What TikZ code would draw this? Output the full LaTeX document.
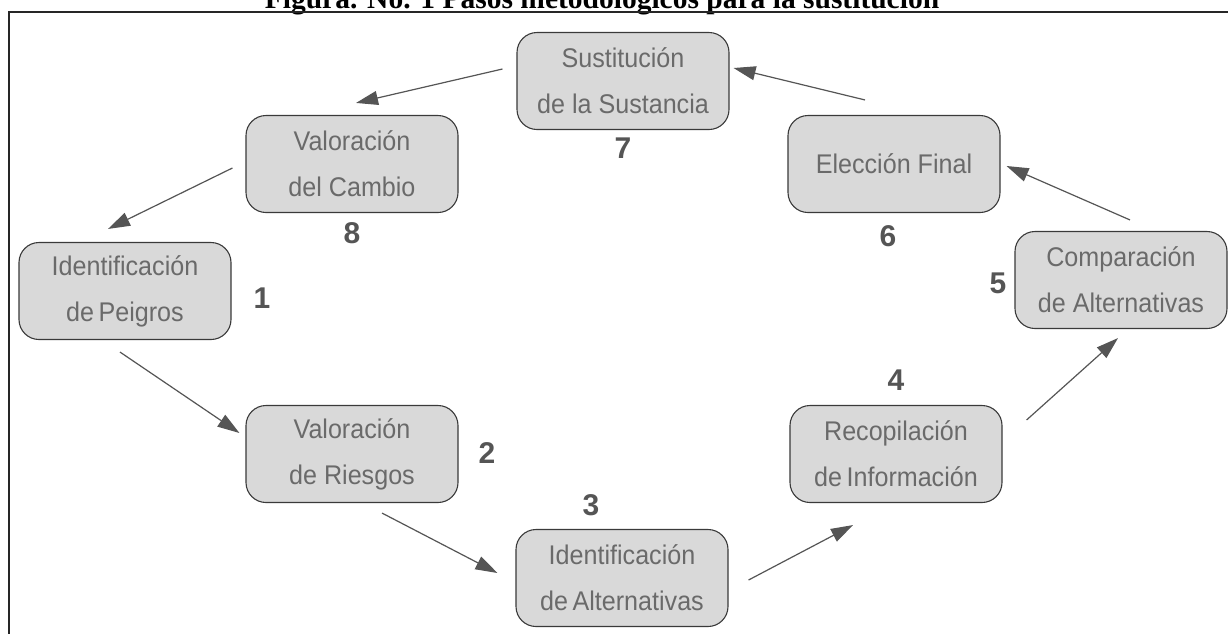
\documentclass[tikz,border=0pt]{standalone}
\usepackage{fontspec}
\setmainfont{Liberation Serif}
\newfontfamily\boxfont[FakeStretch=0.93]{Liberation Sans}
\newfontfamily\numfont{Liberation Sans}
\usetikzlibrary{calc,arrows.meta}
\definecolor{boxfill}{HTML}{D9D9D9}
\definecolor{boxdraw}{HTML}{3A3A3A}
\definecolor{boxtext}{HTML}{6A6A6A}
\definecolor{numcol}{HTML}{555555}
\definecolor{arrcol}{HTML}{555555}
\tikzset{
  stepbox/.style={draw=boxdraw, fill=boxfill, line width=1.1pt, rounded corners=20pt,
    minimum width=212pt, minimum height=97pt, inner sep=0pt, align=center,
    text=boxtext, font={\boxfont\fontsize{27}{46}\selectfont}},
  numlbl/.style={text=numcol, font={\numfont\bfseries\fontsize{30}{30}\selectfont}, inner sep=0pt},
  arr/.style={draw=arrcol, line width=1.2pt, -{Triangle[length=22pt,width=14pt]}},
}
\begin{document}
\begin{tikzpicture}[x=1pt,y=-1pt]
\useasboundingbox (0,0) rectangle (1228,633);
\clip (0,0) rectangle (1228,633);
\fill[white] (0,0) rectangle (1228,633);
% title
\node[anchor=base, font={\bfseries\fontsize{29.5}{30}\selectfont}, inner sep=0pt] (title) at (602,8) {Figura. No. 1 Pasos metodológicos para la sustitución};
% frame
\draw[line width=2pt, draw=black!85] (9,12) rectangle (1250,660);
% boxes
\node[stepbox] (n7) at (623,81) {Sustitución\\de la Sustancia};
\node[stepbox] (n8) at (352,164) {Valoración\\del Cambio};
\node[stepbox] (n1) at (125,291) {Identificación\\de\,Peigros};
\node[stepbox] (n2) at (352,454) {Valoración\\de Riesgos};
\node[stepbox] (n3) at (622,578) {Identificación\\de\,Alternativas};
\node[stepbox] (n4) at (896,454) {Recopilación\\de\,Información};
\node[stepbox] (n5) at (1121,280) {Comparación\\de Alternativas};
\node[stepbox] (n6) at (894,164) {Elección Final};
% numbers
\node[numlbl] (l7) at (623,148) {7};
\node[numlbl] (l8) at (352,233) {8};
\node[numlbl] (l1) at (262,298) {1};
\node[numlbl] (l2) at (487,453) {2};
\node[numlbl] (l3) at (591,505) {3};
\node[numlbl] (l4) at (896,380) {4};
\node[numlbl] (l5) at (998,283) {5};
\node[numlbl] (l6) at (888,236) {6};
% arrows
\draw[arr] ($(n7.west)+(-14,-12)$) -- ($(n8.north)+(4,-12)$);
\draw[arr] ($(n8.west)+(-13,4)$) -- ($(n1.north)+(-17,-13)$);
\draw[arr] ($(n1.south)+(-5,12)$) -- ($(n2.west)+(-6,-21)$);
\draw[arr] ($(n2.south)+(30,10)$) -- ($(n3.west)+(-18,-5)$);
\draw[arr] ($(n3.east)+(20,2)$) -- ($(n4.south)+(-43,22)$);
\draw[arr] ($(n4.east)+(24,-34)$) -- ($(n5.south)+(-3,9)$);
\draw[arr] ($(n5.north)+(9,-11)$) -- ($(n6.east)+(6,2)$);
\draw[arr] ($(n6.north)+(-29,-15)$) -- ($(n7.east)+(4,-13)$);
\end{tikzpicture}
\end{document}
